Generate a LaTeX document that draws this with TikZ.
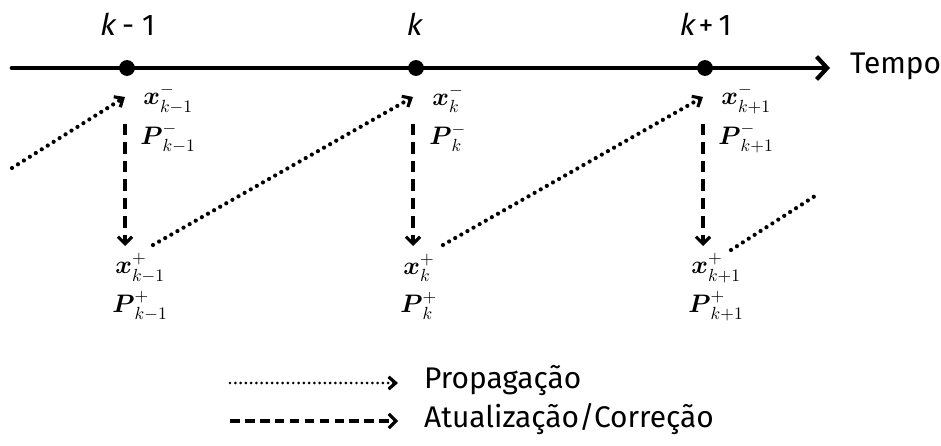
\documentclass[tikz,border=0pt]{standalone}
\usepackage{amsmath}
\usepackage{amssymb}
\usepackage{fontspec}
\setmainfont{Fira Sans}
\newfontfamily\slfont[FakeSlant=0.2]{Fira Sans}
\usepackage{tikz}
\usetikzlibrary{arrows.meta}

\begin{document}
\begin{tikzpicture}[x=0.02cm, y=-0.02cm,
    tick/.style={circle,fill=black,inner sep=0pt,minimum size=9pt},
    est/.style={anchor=west,inner sep=0pt,font=\fontsize{14}{17}\selectfont},
    prop/.style={line width=2.4pt,line cap=round,dash pattern=on 0pt off 4pt,-{Straight Barb[length=4pt,width=7pt,line width=1.8pt]}},
    corr/.style={line width=2pt,dash pattern=on 6.5pt off 4pt,-{Straight Barb[length=4pt,width=8pt,line width=1.8pt]}}]
\useasboundingbox (0,0) rectangle (941,446);

% eixo do tempo
\coordinate (t0) at (12,68);
\coordinate (tf) at (830,68);
\draw[line width=2.8pt,line cap=round,-{Straight Barb[length=6pt,width=13pt,line width=2.4pt]}] (t0)--(tf);
\node[anchor=west,font=\fontsize{17}{19}\selectfont] (tempo) at (844,66) {Tempo};
\node [tick] (A1) at (127,68) {};
\node [tick] (A2) at (416,68) {};
\node [tick] (A3) at (705,68) {};
\node[font=\fontsize{17}{20}\selectfont] (L1) at (127,24) {{\slfont k}\ - 1};
\node[font=\fontsize{17}{20}\selectfont] (L2) at (413,24) {\slfont k};
\node[font=\fontsize{17}{20}\selectfont] (L3) at (705,24) {{\slfont k}\,+\,1};

% estimativas a priori
\node[est] (X1) at (143,99) {$\boldsymbol{x}_{k-1}^{-}$};
\node[est] (P1) at (140,138) {$\boldsymbol{P}_{k-1}^{-}$};
\node[est] (X2) at (432,99) {$\boldsymbol{x}_{k}^{-}$};
\node[est] (P2) at (429,138) {$\boldsymbol{P}_{k}^{-}$};
\node[est] (X3) at (721,99) {$\boldsymbol{x}_{k+1}^{-}$};
\node[est] (P3) at (718,138) {$\boldsymbol{P}_{k+1}^{-}$};

% estimativas a posteriori
\node[est] (Y1) at (115,268) {$\boldsymbol{x}_{k-1}^{+}$};
\node[est] (Q1) at (112,306) {$\boldsymbol{P}_{k-1}^{+}$};
\node[est] (Y2) at (403,268) {$\boldsymbol{x}_{k}^{+}$};
\node[est] (Q2) at (400,306) {$\boldsymbol{P}_{k}^{+}$};
\node[est] (Y3) at (691,268) {$\boldsymbol{x}_{k+1}^{+}$};
\node[est] (Q3) at (688,306) {$\boldsymbol{P}_{k+1}^{+}$};

% correcao
\coordinate (c1a) at (125,124); \coordinate (c1b) at (125,246);
\coordinate (c2a) at (413,124); \coordinate (c2b) at (413,246);
\coordinate (c3a) at (703,124); \coordinate (c3b) at (703,246);
\draw[corr] (c1a)--(c1b);
\draw[corr] (c2a)--(c2b);
\draw[corr] (c3a)--(c3b);

% propagacao
\coordinate (p0) at (12,168);
\coordinate (p1a) at (125,97); \coordinate (p1b) at (153,245);
\coordinate (p2a) at (413,97); \coordinate (p2b) at (443,245);
\coordinate (p3a) at (703,97); \coordinate (p3b) at (731,250);
\coordinate (p4) at (815,196);
\draw[prop] (p0)--(p1a);
\draw[prop] (p1b)--(p2a);
\draw[prop] (p2b)--(p3a);
\draw[prop,-] (p3b)--(p4);

% legenda
\coordinate (g1a) at (230,383); \coordinate (g1b) at (398,383);
\coordinate (g2a) at (230,421); \coordinate (g2b) at (398,421);
\draw[prop,line width=1.7pt,dash pattern=on 0pt off 3pt] (g1a)--(g1b);
\draw[corr,dash pattern=on 5.5pt off 3pt] (g2a)--(g2b);
\node[anchor=west,font=\fontsize{17}{19}\selectfont] (leg1) at (418,381) {Propagação};
\node[anchor=west,font=\fontsize{17}{19}\selectfont] (leg2) at (418,419) {Atualização/Correção};
\end{tikzpicture}
\end{document}
